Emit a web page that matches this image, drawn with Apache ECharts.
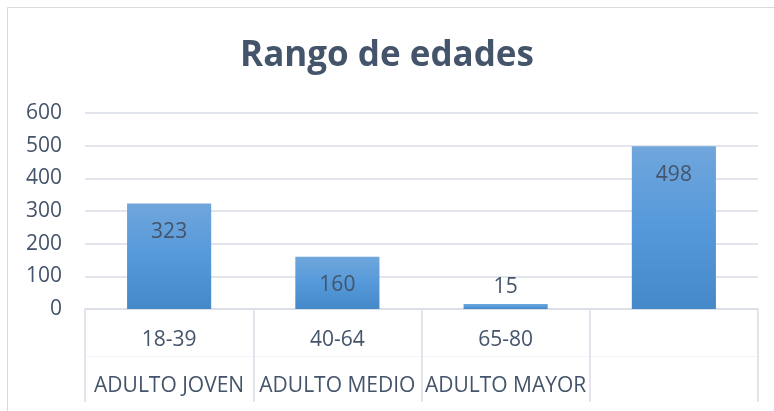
<!DOCTYPE html>
<html>
<head>
<meta charset="utf-8">
<script src="https://cdn.jsdelivr.net/npm/echarts@6/dist/echarts.min.js"></script>
<style>
    html, body { margin: 0; padding: 0; background: #fff; }
    #chart { width: 774px; height: 411px; }
</style>
</head>
<body>
<div id="chart"></div>
<script>
// datos del gráfico
const rangos = ['18-39', '40-64', '65-80', '']
const grupos = ['ADULTO JOVEN', 'ADULTO MEDIO', 'ADULTO MAYOR', '']
const personas = [323, 160, 15, 498]
const yTicks = [0, 100, 200, 300, 400, 500, 600]

const TEXT_COLOR = '#44546A'
const LINE_COLOR = '#D9DEE6'
const FONT = '"Open Sans", sans-serif'

const chart = echarts.init(document.getElementById('chart'))

// las barras pequeñas llevan la etiqueta por encima
const barData = personas.map((v) => {
    const small = v < 50
    return {
        value: v,
        label: {
            position: small ? 'top' : 'insideTop',
            distance: small ? 7 : 18,
        },
    }
})

const option = {
    animation: false,
    textStyle: { fontFamily: FONT },
    title: {
        text: 'Rango de edades',
        left: 'center',
        top: 34,
        textStyle: {
            fontFamily: FONT,
            fontSize: 35,
            fontWeight: 'bold',
            color: TEXT_COLOR,
        },
    },
    graphic: [
        {
            type: 'rect',
            shape: { x: 7.5, y: 7.5, width: 800, height: 500 },
            style: { fill: 'none', stroke: '#D9D9E0', lineWidth: 1 },
            silent: true,
        },
    ],
    grid: {
        left: 85,
        right: 16,
        top: 113,
        bottom: 102,
    },
    xAxis: [
        {
            type: 'category',
            data: rangos,
            axisLine: { lineStyle: { color: LINE_COLOR, width: 1.5 } },
            axisTick: {
                show: true,
                interval: 0,
                length: 93,
                lineStyle: { color: LINE_COLOR, width: 1.5 },
            },
            axisLabel: {
                interval: 0,
                margin: 21,
                fontSize: 21,
                color: TEXT_COLOR,
                fontFamily: FONT,
            },
        },
        {
            type: 'category',
            position: 'bottom',
            offset: 47,
            data: grupos,
            axisLine: { lineStyle: { color: '#F3F4F7', width: 1 } },
            axisTick: { show: false },
            axisLabel: {
                interval: 0,
                margin: 20,
                fontSize: 21,
                color: TEXT_COLOR,
                fontFamily: FONT,
            },
        },
    ],
    yAxis: {
        type: 'value',
        min: yTicks[0],
        max: yTicks[yTicks.length - 1],
        interval: 100,
        axisLine: { show: false },
        axisTick: { show: false },
        axisLabel: {
            margin: 23,
            fontSize: 21,
            color: TEXT_COLOR,
            fontFamily: FONT,
        },
        splitLine: { lineStyle: { color: LINE_COLOR, width: 1.5 } },
    },
    series: [
        {
            type: 'bar',
            xAxisIndex: 0,
            barWidth: '50%',
            data: barData,
            itemStyle: {
                color: new echarts.graphic.LinearGradient(0, 0, 0, 1, [
                    { offset: 0, color: '#70A6DC' },
                    { offset: 0.5, color: '#5599DA' },
                    { offset: 1, color: '#4589C9' },
                ]),
            },
            label: {
                show: true,
                fontSize: 21,
                color: TEXT_COLOR,
                fontFamily: FONT,
            },
        },
    ],
}

chart.setOption(option)
</script>
</body>
</html>
